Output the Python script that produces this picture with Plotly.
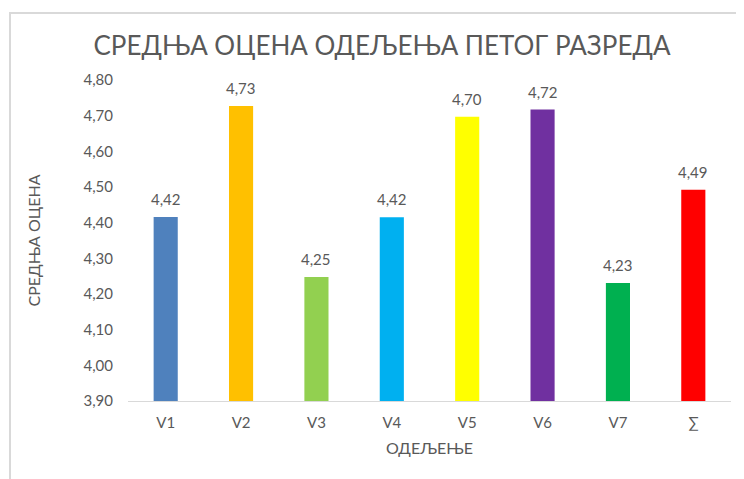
import plotly.graph_objects as go

categories = ["V1", "V2", "V3", "V4", "V5", "V6", "V7", "∑"]
values = [4.416, 4.727, 4.248, 4.415, 4.697, 4.717, 4.231, 4.492]
colors = ["#4f81bd", "#ffc000", "#92d050", "#00b0f0", "#ffff00", "#7030a0", "#00b050", "#ff0000"]
y_ticks = [3.9, 4.0, 4.1, 4.2, 4.3, 4.4, 4.5, 4.6, 4.7, 4.8]

# page body adds an 8px offset; compensate so the screenshot lines up
OFF = 8
W, H = 744, 479
ML, MR, MT, MB = 128 - OFF, 13 + OFF, 80 - OFF, 78 + OFF
pw, ph = W - ML - MR, H - MT - MB

def px_x(x):
    return (x - OFF - ML) / pw

def px_y(y):
    return (H - MB - (y - OFF)) / ph

font = "Lato, 'Open Sans', sans-serif"
grey = "#595959"

fig = go.Figure(go.Bar(
    x=categories, y=values,
    marker=dict(color=colors, line=dict(width=0)),
    cliponaxis=False,
))

for c, v in zip(categories, values):
    fig.add_annotation(x=c, y=v, text=f"{v:.2f}".replace(".", ","), showarrow=False,
                       yanchor="bottom", yshift=7,
                       font=dict(size=15, color=grey, family=font))

fig.update_layout(
    width=W, height=H,
    margin=dict(l=ML, r=MR, t=MT, b=MB),
    paper_bgcolor="white", plot_bgcolor="white",
    separators=",.",
    bargap=0.68,
    showlegend=False,
    title=dict(text="СРЕДЊА ОЦЕНА ОДЕЉЕЊА ПЕТОГ РАЗРЕДА", x=(382 - OFF) / W, xanchor="center",
               y=1 - (46 - OFF) / H, yanchor="middle",
               font=dict(size=26, color=grey, family=font)),
    xaxis=dict(showline=True, linecolor="#d9d9d9", linewidth=1, ticks="", ticklabelstandoff=8,
               tickfont=dict(size=15, color=grey, family=font),
               title=dict(text="ОДЕЉЕЊЕ", font=dict(size=16, color=grey, family=font), standoff=12)),
    yaxis=dict(range=[3.9, 4.8], tickvals=y_ticks, tickformat=".2f", showgrid=False, zeroline=False,
               showline=False, ticks="", ticklabelstandoff=14,
               tickfont=dict(size=15, color=grey, family=font),
               title=dict(text="СРЕДЊА ОЦЕНА", font=dict(size=16, color=grey, family=font), standoff=38)),
    shapes=[dict(type="path", xref="paper", yref="paper",
                 path=f"M {px_x(10)} {px_y(495)} L {px_x(10)} {px_y(13)} L {px_x(770)} {px_y(13)}",
                 line=dict(color="#d9d9d9", width=2))],
)

fig.write_html("out.html")
